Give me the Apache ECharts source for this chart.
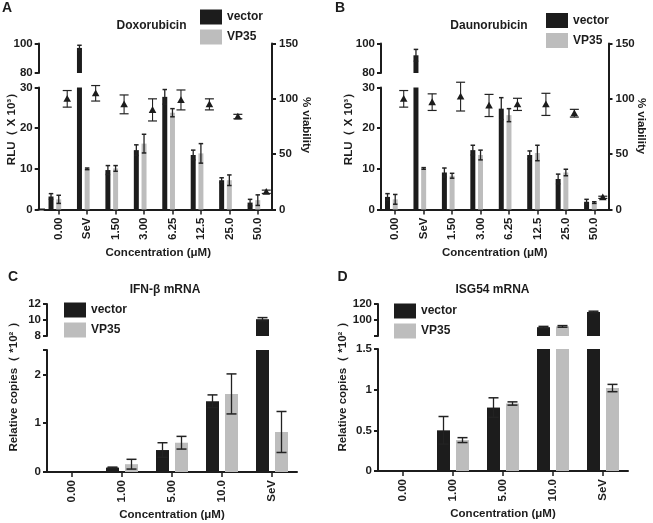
<!DOCTYPE html>
<html><head><meta charset="utf-8">
<script src="https://cdn.jsdelivr.net/npm/echarts@6/dist/echarts.min.js"></script>
<style>html,body{margin:0;padding:0;background:#fff}#c{width:653px;height:523px}</style>
</head><body><div id="c"></div>
<script>
// ---------- data ----------
const catsAB = ['0.00', 'SeV', '1.50', '3.00', '6.25', '12.5', '25.0', '50.0'];
const doxVector    = [3.2, 97, 9.7, 14.6, 27.7, 13.4, 7.2, 1.7];
const doxVectorErr = [0.7, 1.8, 1.1, 1.3, 1.8, 1.2, 0.6, 0.8];
const doxVP35      = [2.5, 10.0, 10.1, 16.2, 23.8, 13.8, 7.2, 2.3];
const doxVP35Err   = [1.0, 0.2, 0.7, 2.3, 1.0, 2.4, 1.3, 1.3];
const doxViab      = [100, 105, 95, 90, 99, 95, 84, 16];
const doxViabErr   = [7.5, 7, 8.5, 10, 9, 5, 2, 1.5];

const dauVector    = [3.1, 92, 9.1, 14.6, 24.8, 13.4, 7.5, 1.9];
const dauVectorErr = [0.8, 4, 1.1, 1.2, 2.7, 1.0, 1.2, 0.6];
const dauVP35      = [2.5, 10.1, 8.3, 13.4, 23.2, 13.9, 9.1, 1.7];
const dauVP35Err   = [1.2, 0.2, 0.6, 1.2, 1.6, 1.9, 0.8, 0.2];
const dauViab      = [100, 97, 102, 94, 95, 95, 87, 11];
const dauViabErr   = [7.5, 7.5, 13, 10, 5.5, 10, 3.5, 1];

const catsCD = ['0.00', '1.00', '5.00', '10.0', 'SeV'];
const ifnVector    = [0, 0.09, 0.45, 1.45, 10.1];
const ifnVectorErr = [0, 0.01, 0.15, 0.13, 0.2];
const ifnVP35      = [0, 0.16, 0.6, 1.6, 0.82];
const ifnVP35Err   = [0, 0.1, 0.13, 0.41, 0.42];
const isgVector    = [0, 0.5, 0.78, 91, 110];
const isgVectorErr = [0, 0.17, 0.12, 1, 1];
const isgVP35      = [0, 0.38, 0.83, 92, 1.02];
const isgVP35Err   = [0, 0.03, 0.02, 1, 0.045];

const legendNames = ['vector', 'VP35'];

// ---------- style ----------
const FONT = "'Liberation Sans', Arial, Helvetica, sans-serif";
const INK = '#1c1c1c';
const GRAY = '#bdbdbd';
const ERR = '#222222';

const grids = [], xAxes = [], yAxes = [], series = [];

function addGrid(g, cats, showX, yOpt, xName) {
  grids.push(Object.assign({containLabel: false}, g));
  const idx = grids.length - 1;
  xAxes.push({
    type: 'category', gridIndex: idx, data: cats, show: showX,
    boundaryGap: true,
    axisLine: {show: true, lineStyle: {color: INK, width: 2}},
    axisTick: {show: true, alignWithLabel: true, length: 5, lineStyle: {color: INK, width: 1.5}},
    axisLabel: {rotate: 90, margin: 8, fontSize: 11.5, fontWeight: 'bold', fontFamily: FONT, color: INK},
    name: xName || '', nameLocation: 'middle', nameGap: 37,
    nameTextStyle: {fontSize: 11.5, fontWeight: 'bold', fontFamily: FONT, color: INK},
    splitLine: {show: false}
  });
  const y = Object.assign({
    type: 'value', gridIndex: idx,
    axisLine: {show: true, lineStyle: {color: INK, width: 2}},
    axisTick: {show: true, length: 4, lineStyle: {color: INK, width: 2}},
    axisLabel: {margin: 6, fontSize: 11.5, fontWeight: 'bold', fontFamily: FONT, color: INK},
    splitLine: {show: false}
  }, yOpt);
  yAxes.push(y);
  return idx;
}

function barSeries(name, gi, vals, errs, o) {
  return {
    type: 'custom', name: name, xAxisIndex: gi, yAxisIndex: gi,
    silent: true, animation: false,
    itemStyle: {color: o.color},
    encode: {x: 0, y: 1},
    data: vals.map((v, i) => [i, v, errs[i]]),
    renderItem: function (params, api) {
      const i = api.value(0), v = api.value(1), e = api.value(2);
      if (!(v > o.min)) return null;
      const base = api.coord([i, o.min]);
      const cx = base[0] + o.off;
      const yB = base[1];
      const yT = api.coord([i, Math.min(v, o.max)])[1];
      const ch = [{type: 'rect', shape: {x: cx - o.w / 2, y: yT, width: o.w, height: yB - yT}, style: {fill: o.color}}];
      if (e > 0 && v <= o.max) {
        const hi = Math.min(v + e, o.max), lo = Math.max(v - e, o.min);
        const yH = api.coord([i, hi])[1], yL = api.coord([i, lo])[1];
        ch.push({type: 'line', shape: {x1: cx, y1: yH, x2: cx, y2: yL}, style: {stroke: ERR, lineWidth: 1.3}});
        if (v + e <= o.max) ch.push({type: 'line', shape: {x1: cx - o.cap / 2, y1: yH, x2: cx + o.cap / 2, y2: yH}, style: {stroke: ERR, lineWidth: 1.5}});
        if (v - e >= o.min) ch.push({type: 'line', shape: {x1: cx - o.cap / 2, y1: yL, x2: cx + o.cap / 2, y2: yL}, style: {stroke: ERR, lineWidth: 1.5}});
      }
      return {type: 'group', children: ch};
    }
  };
}

function triSeries(name, gi, vals, errs, o) {
  return {
    type: 'custom', name: name, xAxisIndex: gi, yAxisIndex: gi,
    silent: true, animation: false,
    itemStyle: {color: INK},
    encode: {x: 0, y: 1},
    data: vals.map((v, i) => [i, v, errs[i]]),
    renderItem: function (params, api) {
      const i = api.value(0), v = api.value(1), e = api.value(2);
      const p = api.coord([i, v]);
      const cx = p[0] + o.off, cy = p[1];
      const yH = api.coord([i, v + e])[1], yL = api.coord([i, v - e])[1];
      const ch = [];
      if (e > 0) {
        ch.push({type: 'line', shape: {x1: cx, y1: yH, x2: cx, y2: yL}, style: {stroke: ERR, lineWidth: 1.1}});
        ch.push({type: 'line', shape: {x1: cx - 4.5, y1: yH, x2: cx + 4.5, y2: yH}, style: {stroke: ERR, lineWidth: 1.2}});
        ch.push({type: 'line', shape: {x1: cx - 4.5, y1: yL, x2: cx + 4.5, y2: yL}, style: {stroke: ERR, lineWidth: 1.2}});
      }
      ch.push({type: 'polygon', shape: {points: [[cx - 3.8, cy + 3], [cx + 3.8, cy + 3], [cx, cy - 3.8]]}, style: {fill: INK}});
      return {type: 'group', children: ch};
    }
  };
}

// ---------- panels A and B ----------
function panelAB(left, width, yOffset, vec, vecE, vp, vpE, via, viaE) {
  const gUp = addGrid({left: left, top: 43.5, width: width, height: 29.5}, catsAB, false,
    {min: 80, max: 100, interval: 20, offset: yOffset});
  const gLo = addGrid({left: left, top: 87.5, width: width, height: 122}, catsAB, true,
    {min: 0, max: 30, interval: 10, offset: yOffset}, 'Concentration (\u03bcM)');
  const gR = addGrid({left: left, top: 43.5, width: width, height: 166}, catsAB, false,
    {min: 0, max: 150, interval: 50, position: 'right',
     axisLabel: {margin: 7, fontSize: 11.5, fontWeight: 'bold', fontFamily: FONT, color: INK}});
  const bw = 5, cap = 4.5;
  series.push(barSeries('vector', gUp, vec, vecE, {min: 80, max: 100, off: -7.7, w: bw, color: INK, cap: cap}));
  series.push(barSeries('VP35', gUp, vp, vpE, {min: 80, max: 100, off: 0, w: bw, color: GRAY, cap: cap}));
  series.push(barSeries('vector', gLo, vec, vecE, {min: 0, max: 30, off: -7.7, w: bw, color: INK, cap: cap}));
  series.push(barSeries('VP35', gLo, vp, vpE, {min: 0, max: 30, off: 0, w: bw, color: GRAY, cap: cap}));
  series.push(triSeries('% viability', gR, via, viaE, {off: 8.5}));
}
panelAB(44.5, 227.5, 5.8, doxVector, doxVectorErr, doxVP35, doxVP35Err, doxViab, doxViabErr);
panelAB(381, 227.5, 0, dauVector, dauVectorErr, dauVP35, dauVP35Err, dauViab, dauViabErr);

// ---------- panels C and D ----------
function panelCD(left, upOpt, loOpt, loTop, vec, vecE, vp, vpE) {
  const gUp = addGrid({left: left, top: 304, width: 250, height: 32}, catsCD, false, upOpt);
  const gLo = addGrid({left: left, top: loTop, width: 250, height: 122}, catsCD, true, loOpt, 'Concentration (\u03bcM)');
  const bw = 13, cap = 10;
  series.push(barSeries('vector', gUp, vec, vecE, {min: upOpt.min, max: upOpt.max, off: -9.5, w: bw, color: INK, cap: cap}));
  series.push(barSeries('VP35', gUp, vp, vpE, {min: upOpt.min, max: upOpt.max, off: 9.5, w: bw, color: GRAY, cap: cap}));
  series.push(barSeries('vector', gLo, vec, vecE, {min: 0, max: loOpt.max, off: -9.5, w: bw, color: INK, cap: cap}));
  series.push(barSeries('VP35', gLo, vp, vpE, {min: 0, max: loOpt.max, off: 9.5, w: bw, color: GRAY, cap: cap}));
}
panelCD(47, {min: 8, max: 12, interval: 2},
  {min: 0, max: 2.5, interval: 1,
   axisTick: {show: true, length: 4, lineStyle: {color: INK, width: 2}, customValues: [0, 1, 2, 2.5]},
   axisLabel: {margin: 6, fontSize: 11.5, fontWeight: 'bold', fontFamily: FONT, color: INK, customValues: [0, 1, 2]}},
  350, ifnVector, ifnVectorErr, ifnVP35, ifnVP35Err);
panelCD(378, {min: 80, max: 120, interval: 20,
   axisLabel: {margin: 6, fontSize: 11.5, fontWeight: 'bold', fontFamily: FONT, color: INK,
     formatter: v => (v === 80 ? '' : String(v))}},
  {min: 0, max: 1.5, interval: 0.5},
  349, isgVector, isgVectorErr, isgVP35, isgVP35Err);

// ---------- legends ----------
const legCommon = {
  data: legendNames, orient: 'vertical', icon: 'rect', itemWidth: 22, itemHeight: 15, itemGap: 5,
  padding: 0, selectedMode: false,
  textStyle: {fontSize: 12, fontWeight: 'bold', fontFamily: FONT, color: INK}
};
const legends = [
  Object.assign({left: 200, top: 9.5}, legCommon),
  Object.assign({left: 546, top: 13}, legCommon),
  Object.assign({left: 64, top: 302.5}, legCommon),
  Object.assign({left: 394, top: 303.5}, legCommon)
];

// ---------- texts ----------
function txt(text, x, y, size, rot) {
  return {type: 'text', x: x, y: y, rotation: rot || 0, silent: true,
    style: {text: text, font: 'bold ' + size + 'px ' + FONT, fill: INK,
      align: 'center', verticalAlign: 'middle', textAlign: 'center', textVerticalAlign: 'middle'}};
}
const graphics = [
  txt('A', 7, 8.5, 14), txt('B', 340, 8.5, 14), txt('C', 13, 277.5, 14), txt('D', 342.5, 277.5, 14),
  txt('Doxorubicin', 151.5, 25.5, 12), txt('Daunorubicin', 489, 25.5, 12),
  txt('IFN-\u03b2 mRNA', 165, 289.5, 12), txt('ISG54 mRNA', 492.5, 289.5, 12),
  txt('RLU\uff08 X 10\u00b3\uff09', 12, 126, 11.5, Math.PI / 2),
  txt('RLU\uff08 X 10\u00b3\uff09', 349, 126, 11.5, Math.PI / 2),
  txt('% viability', 306.5, 125, 11.5, -Math.PI / 2),
  txt('% viability', 641.5, 126, 11.5, -Math.PI / 2),
  txt('Relative copies\uff08 *10\u00b2 \uff09', 14, 384, 11.5, Math.PI / 2),
  txt('Relative copies\uff08 *10\u00b2 \uff09', 343, 384, 11.5, Math.PI / 2),
  // join the left axis of panel A to its category axis line
  {type: 'line', silent: true, shape: {x1: 37.7, y1: 209.5, x2: 45, y2: 209.5}, style: {stroke: INK, lineWidth: 2}}
];

const chart = echarts.init(document.getElementById('c'), null, {renderer: 'canvas'});
chart.setOption({
  backgroundColor: '#ffffff',
  animation: false,
  textStyle: {fontFamily: FONT},
  grid: grids, xAxis: xAxes, yAxis: yAxes, series: series,
  legend: legends, graphic: graphics
});
</script></body></html>
